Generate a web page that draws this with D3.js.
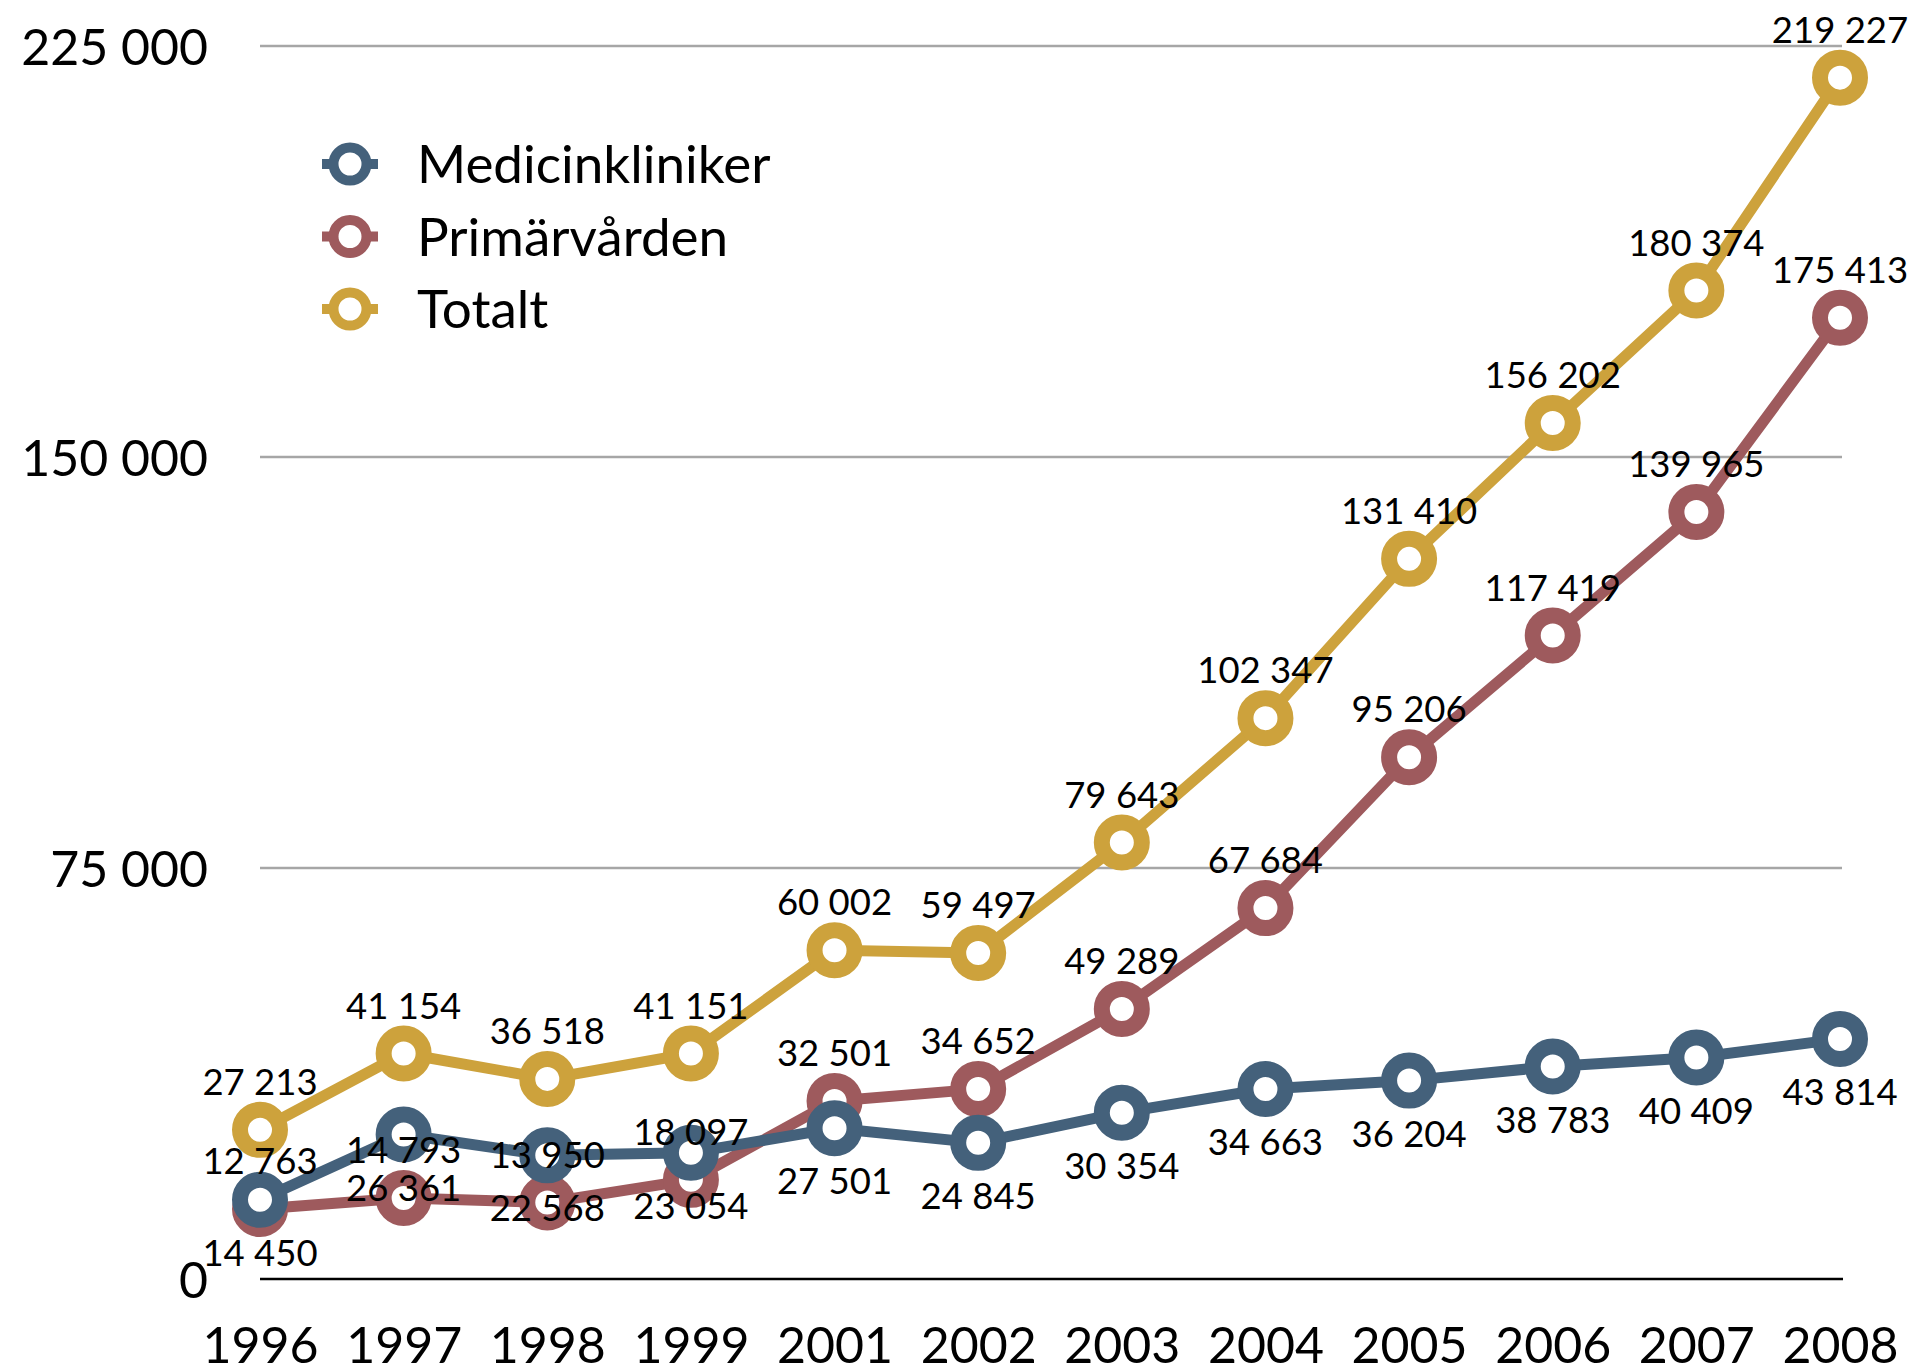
<!DOCTYPE html>
<html>
<head>
<meta charset="utf-8">
<script src="https://cdn.jsdelivr.net/npm/d3@7"></script>
<style>
  body { margin: 0; background: #fff; }
  text { font-family: Lato, "Open Sans", sans-serif; fill: #000; }
</style>
</head>
<body>
<script>
const years = ["1996", "1997", "1998", "1999", "2001", "2002", "2003", "2004", "2005", "2006", "2007", "2008"];
const medicinkliniker = [14450, 26361, 22568, 23054, 27501, 24845, 30354, 34663, 36204, 38783, 40409, 43814];
const primarvarden = [12763, 14793, 13950, 18097, 32501, 34652, 49289, 67684, 95206, 117419, 139965, 175413];
const totalt = [27213, 41154, 36518, 41151, 60002, 59497, 79643, 102347, 131410, 156202, 180374, 219227];
const yTicks = [0, 75000, 150000, 225000];
const seriesNames = ["Medicinkliniker", "Primärvården", "Totalt"];

const w = 1915;
const h = 1370;

const series = [
  { name: seriesNames[0], values: medicinkliniker, color: "#44617b", labelPos: "below" },
  { name: seriesNames[1], values: primarvarden, color: "#9e5a5d", labelPos: "above" },
  { name: seriesNames[2], values: totalt, color: "#cda23c", labelPos: "above" }
];

const svg = d3.select("body")
  .append("svg")
  .attr("width", w)
  .attr("height", h);

const x = d3.scalePoint().domain(years).range([260, 1840]);
const y = d3.scaleLinear().domain([0, 225000]).range([1279, 46]);

const fmt = (v) => d3.format(",")(v).replace(/,/g, " ");

// gridlines
svg.append("g")
  .selectAll("line")
  .data(yTicks.filter((d) => d > 0))
  .enter()
  .append("line")
  .attr("x1", 260)
  .attr("x2", 1842)
  .attr("y1", (d) => y(d))
  .attr("y2", (d) => y(d))
  .attr("stroke", "#a6a6a6")
  .attr("stroke-width", 2.5);

// y axis labels
const yAxis = svg.append("g")
  .attr("transform", "translate(208,0)")
  .call(d3.axisLeft(y).tickValues(yTicks).tickSize(0).tickPadding(0).tickFormat(fmt));
yAxis.select(".domain").remove();
yAxis.selectAll("text")
  .attr("font-size", 50)
  .attr("font-family", "Lato")
  .attr("fill", "#000")
  .attr("dy", "0.36em");

// x axis
const xAxis = svg.append("g")
  .attr("transform", "translate(0," + y(0) + ")")
  .call(d3.axisBottom(x).tickSize(0).tickPadding(0));
xAxis.select(".domain").remove();
xAxis.selectAll("text")
  .attr("font-size", 50)
  .attr("font-family", "Lato")
  .attr("fill", "#000")
  .attr("dy", 0)
  .attr("y", 84);

svg.append("line")
  .attr("x1", 260)
  .attr("x2", 1843)
  .attr("y1", y(0))
  .attr("y2", y(0))
  .attr("stroke", "#000")
  .attr("stroke-width", 2.6);

const line = d3.line()
  .x((d, i) => x(years[i]))
  .y((d) => y(d));

// red, gold, then blue on top
const drawOrder = [series[1], series[2], series[0]];

drawOrder.forEach((s) => {
  const g = svg.append("g");
  g.append("path")
    .datum(s.values)
    .attr("d", line)
    .attr("fill", "none")
    .attr("stroke", s.color)
    .attr("stroke-width", 11)
    .attr("stroke-linejoin", "round");

  g.selectAll("circle")
    .data(s.values)
    .enter()
    .append("circle")
    .attr("cx", (d, i) => x(years[i]))
    .attr("cy", (d) => y(d))
    .attr("r", 20)
    .attr("fill", "#fff")
    .attr("stroke", s.color)
    .attr("stroke-width", 16);
});

// data labels on top
series.forEach((s) => {
  svg.append("g")
    .selectAll("text")
    .data(s.values)
    .enter()
    .append("text")
    .attr("x", (d, i) => x(years[i]))
    .attr("y", (d) => y(d) + (s.labelPos === "above" ? -48 : 53))
    .attr("dy", "0.36em")
    .attr("text-anchor", "middle")
    .attr("font-size", 36.5)
    .text((d) => fmt(d));
});

// legend
const legend = svg.append("g")
  .attr("transform", "translate(350,164)");

const item = legend.selectAll("g")
  .data(series)
  .enter()
  .append("g")
  .attr("transform", (d, i) => "translate(0," + i * 72.5 + ")");

item.append("line")
  .attr("x1", -28)
  .attr("x2", 28)
  .attr("stroke", (d) => d.color)
  .attr("stroke-width", 10);

item.append("circle")
  .attr("r", 16.5)
  .attr("fill", "#fff")
  .attr("stroke", (d) => d.color)
  .attr("stroke-width", 10);

item.append("text")
  .attr("x", 67)
  .attr("dy", "0.36em")
  .attr("font-size", 53)
  .text((d) => d.name);
</script>
</body>
</html>
